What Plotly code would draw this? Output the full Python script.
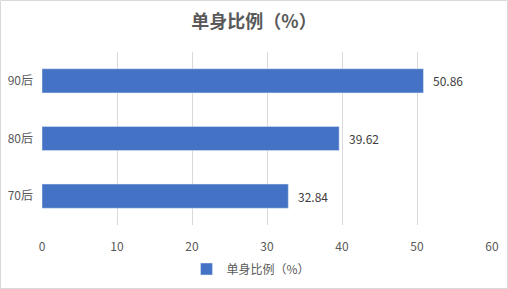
import plotly.graph_objects as go

categories = ["70后", "80后", "90后"]
values = [32.84, 39.62, 50.86]
series_name = "单身比例（%）"
title_text = "单身比例（%）"
x_ticks = [0, 10, 20, 30, 40, 50, 60]

FONT = "Noto Sans CJK SC"

fig = go.Figure()
fig.add_trace(go.Bar(
    y=categories,
    x=values,
    orientation="h",
    name=series_name,
    marker=dict(color="#4472C4"),
    showlegend=True,
))

W, H = 508, 289
ml, mr, mt, mb = 42, 16, 52, 64
pw = W - ml - mr
ph = H - mt - mb

annotations = [
    dict(x=v, y=c, xref="x", yref="y", text=f"{v:.2f}", showarrow=False,
         xanchor="left", yanchor="middle", xshift=8,
         font=dict(family=FONT, size=12, color="#404040"))
    for c, v in zip(categories, values)
]

fig.update_layout(
    width=W, height=H,
    margin=dict(l=ml, r=mr, t=mt, b=mb, autoexpand=False),
    paper_bgcolor="white",
    plot_bgcolor="white",
    font=dict(family=FONT, color="#595959"),
    title=dict(text=title_text, x=0.5, xanchor="center", y=1 - 22 / H, yanchor="middle",
               font=dict(family=FONT, size=18, color="#595959", weight="bold")),
    bargap=0.58,
    xaxis=dict(range=[0, 60], tickvals=x_ticks, showgrid=True, gridcolor="#d9d9d9",
               gridwidth=1, zeroline=False, showline=False, ticks="",
               ticklabelstandoff=13, automargin=False,
               tickfont=dict(family=FONT, size=12, color="#595959")),
    yaxis=dict(showgrid=False, zeroline=False, showline=False, ticks="",
               ticklabelstandoff=8, automargin=False,
               tickfont=dict(family=FONT, size=12, color="#595959")),
    legend=dict(orientation="h", x=(251 - ml) / pw, xanchor="center", y=-44 / ph, yanchor="middle",
                font=dict(family=FONT, size=12, color="#595959"),
                itemwidth=30),
    annotations=annotations,
    shapes=[dict(type="rect", xref="paper", yref="paper",
                 x0=(0.5 - ml) / pw, x1=(W - 0.5 - ml) / pw,
                 y0=-(H - 0.5 - mt - ph) / ph, y1=(ph + mt - 0.5) / ph,
                 line=dict(color="#d9d9d9", width=1), layer="below")],
)

fig.write_html("out.html")
